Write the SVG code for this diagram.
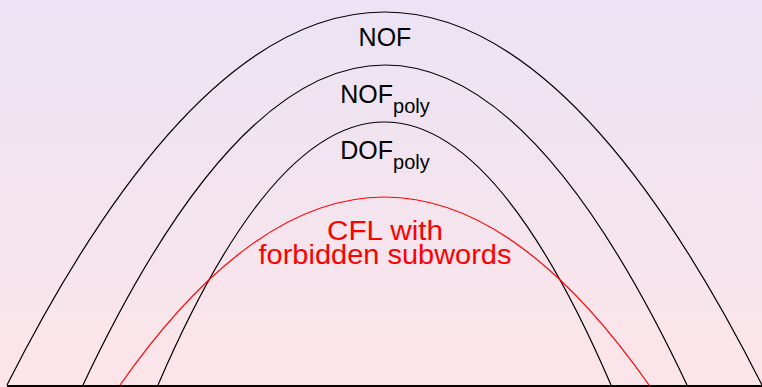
<svg xmlns="http://www.w3.org/2000/svg" width="762" height="387" viewBox="0 0 762 387">
<defs>
<linearGradient id="bg" x1="0" y1="0" x2="0" y2="1">
<stop offset="0" stop-color="#ebe3f4"/>
<stop offset="1" stop-color="#fce5e9"/>
</linearGradient>
</defs>
<style>
.arc{fill:none;stroke:#000;stroke-width:1.2}
.red{stroke:#ff0000}
.t{font-family:"Liberation Sans",Arial,sans-serif;font-size:25px;text-anchor:middle;fill:#000}
.rt{font-family:"Liberation Sans",Arial,sans-serif;font-size:27px;text-anchor:middle;fill:#ff0000}
.sub{font-size:20px}
</style>
<rect width="762" height="387" fill="url(#bg)"/>
<g id="connectors">
<line x1="7" y1="386" x2="762" y2="386" stroke="#000" stroke-width="2"/>
</g>
<g id="nof">
<path class="arc" d="M7,385 Q384.5,-361 762,385"/>
<text class="t" x="385" y="46">NOF</text>
</g>
<g id="nofpoly">
<path class="arc" d="M83,385 Q385,-255 687,385"/>
<text class="t" x="385" y="103">NOF<tspan class="sub" dy="10">poly</tspan></text>
</g>
<g id="dofpoly">
<path class="arc" d="M158,385 Q384.5,-141 611,385"/>
<text class="t" x="385" y="159">DOF<tspan class="sub" dy="10">poly</tspan></text>
</g>
<g id="cfl">
<path class="arc red" d="M120,385 Q384.5,9 649,385"/>
<text class="rt"><tspan x="385" y="240" textLength="116" lengthAdjust="spacingAndGlyphs">CFL with</tspan><tspan x="385" y="264" textLength="253" lengthAdjust="spacingAndGlyphs">forbidden subwords</tspan></text>
</g>
</svg>
